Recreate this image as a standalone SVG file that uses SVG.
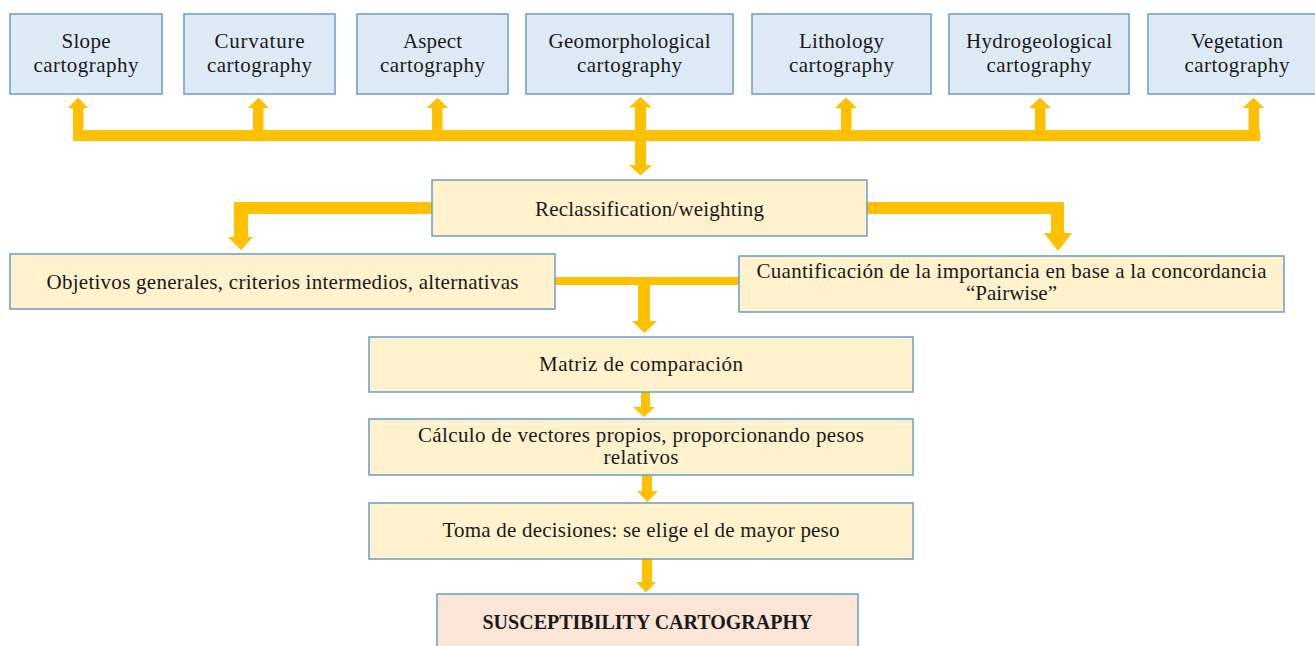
<svg xmlns="http://www.w3.org/2000/svg" width="1315" height="646" viewBox="0 0 1315 646">
<style>
.blue{fill:#deebf7;stroke:#6a9cca;stroke-width:1.5}
.beige{fill:#fff2cc;stroke:#6a9cca;stroke-width:1.5}
.pink{fill:#fbe5d6;stroke:#6a9cca;stroke-width:1.5}
.conn{fill:#ffc000;stroke:none}
text{font-family:"Liberation Serif","Times New Roman",serif;font-size:21px;fill:#1a1a1a;text-anchor:middle}
.b{font-weight:bold;font-size:20px}
</style>
<rect width="1315" height="646" fill="#ffffff"/>
<g id="connectors" class="conn">
  <rect x="73" y="130" width="1187" height="11"/>
  <rect x="73" y="107" width="10.5" height="24"/><polygon points="68,108 88,108 78,97.5"/>
  <rect x="253" y="107" width="10.5" height="24"/><polygon points="248,108 269,108 258.5,97.5"/>
  <rect x="432" y="107" width="10.5" height="24"/><polygon points="427,108 448,108 437.5,97.5"/>
  <rect x="635" y="107" width="11" height="58"/><polygon points="629,107.5 652,107.5 640.5,97"/><polygon points="629,165 652,165 640.5,175.5"/>
  <rect x="841" y="107" width="10.5" height="24"/><polygon points="835,108 857,108 846,97.5"/>
  <rect x="1035" y="107" width="10.5" height="24"/><polygon points="1029,108 1051,108 1040,97.5"/>
  <rect x="1248.5" y="107" width="10.5" height="24"/><polygon points="1243,108 1264,108 1253.5,97.5"/>
  <polygon points="432,202 234,202 234,237 228,237 241,250 253,237 248,237 248,214 432,214"/>
  <polygon points="867,202 1064,202 1064,233 1072,233 1058,251 1044,233 1051,233 1051,214 867,214"/>
  <polygon points="555,277 740,277 740,285 650,285 650,321 657,321 644.5,333 632,321 638,321 638,285 555,285"/>
  <polygon points="641,392 650,392 650,407 655,407 644,417 633,407 641,407"/>
  <polygon points="642,475 652,475 652,491 658,491 647.5,502 637,491 642,491"/>
  <polygon points="642,559 652,559 652,582 656,582 646,592.5 636,582 642,582"/>
</g>
<g id="slope"><rect class="blue" x="10" y="14" width="152" height="80"/><text x="86" y="48" textLength="49">Slope</text><text x="86" y="72" textLength="105">cartography</text></g>
<g id="curvature"><rect class="blue" x="184" y="14" width="151" height="80"/><text x="259.5" y="48" textLength="90">Curvature</text><text x="259.5" y="72" textLength="105">cartography</text></g>
<g id="aspect"><rect class="blue" x="357" y="14" width="151" height="80"/><text x="432.5" y="48" textLength="59">Aspect</text><text x="432.5" y="72" textLength="105">cartography</text></g>
<g id="geomorphological"><rect class="blue" x="526" y="14" width="207" height="80"/><text x="629.5" y="48" textLength="162">Geomorphological</text><text x="629.5" y="72" textLength="105">cartography</text></g>
<g id="lithology"><rect class="blue" x="752" y="14" width="179" height="80"/><text x="841.5" y="48" textLength="85">Lithology</text><text x="841.5" y="72" textLength="105">cartography</text></g>
<g id="hydrogeological"><rect class="blue" x="949" y="14" width="180" height="80"/><text x="1039" y="48" textLength="146">Hydrogeological</text><text x="1039" y="72" textLength="105">cartography</text></g>
<g id="vegetation"><rect class="blue" x="1148" y="14" width="180" height="80"/><text x="1237" y="48" textLength="92">Vegetation</text><text x="1237" y="72" textLength="105">cartography</text></g>
<g id="reclassification"><rect class="beige" x="432" y="180" width="435" height="56"/><text x="649.5" y="216" textLength="229">Reclassification/weighting</text></g>
<g id="objetivos"><rect class="beige" x="10" y="254" width="545" height="55"/><text x="282.5" y="289" textLength="472">Objetivos generales, criterios intermedios, alternativas</text></g>
<g id="cuantificacion"><rect class="beige" x="739" y="256" width="545" height="56"/><text x="1011.5" y="278" textLength="510">Cuantificación de la importancia en base a la concordancia</text><text x="1011.5" y="300">“Pairwise”</text></g>
<g id="matriz"><rect class="beige" x="369" y="337" width="544" height="55"/><text x="641" y="371" textLength="204">Matriz de comparación</text></g>
<g id="calculo"><rect class="beige" x="369" y="419" width="544" height="56"/><text x="641" y="442" textLength="446">Cálculo de vectores propios, proporcionando pesos</text><text x="641" y="464" textLength="75">relativos</text></g>
<g id="toma"><rect class="beige" x="369" y="503" width="544" height="56"/><text x="641" y="537" textLength="397">Toma de decisiones: se elige el de mayor peso</text></g>
<g id="susceptibility"><rect class="pink" x="437" y="594" width="421" height="60"/><text class="b" x="647.5" y="629" textLength="330">SUSCEPTIBILITY CARTOGRAPHY</text></g>
</svg>
